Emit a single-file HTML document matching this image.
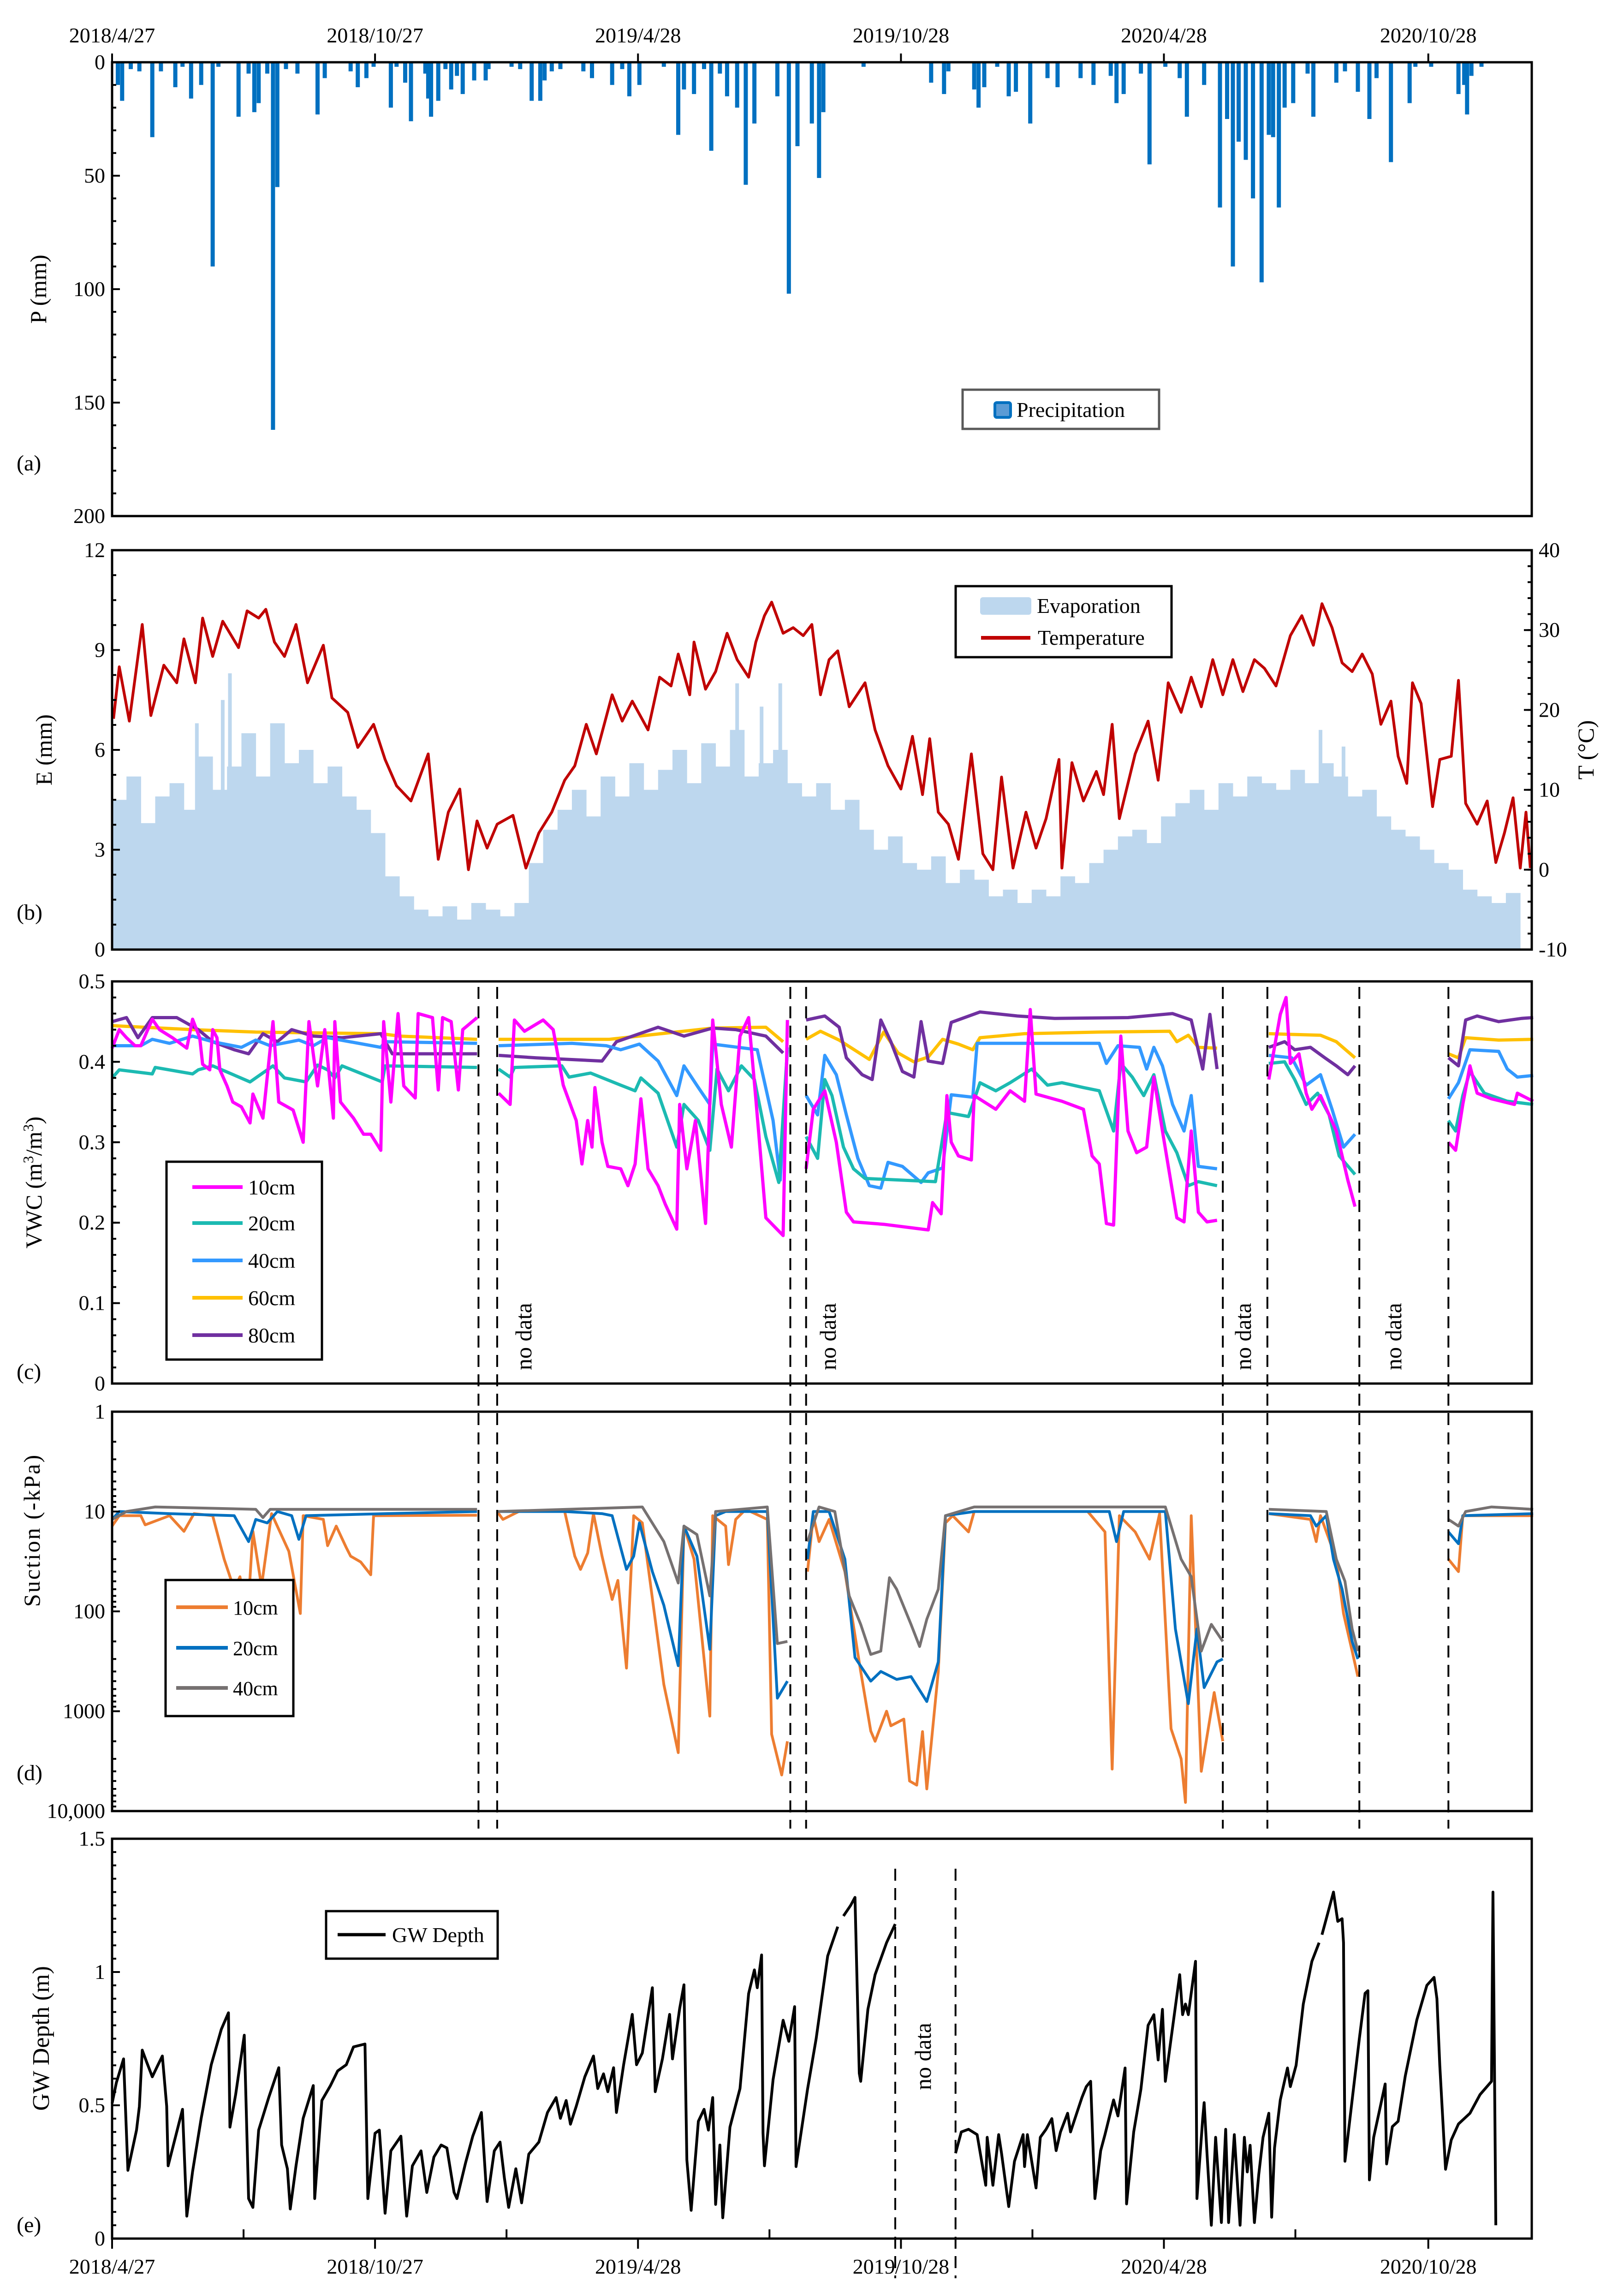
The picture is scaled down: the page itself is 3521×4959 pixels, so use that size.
<!DOCTYPE html>
<html><head><meta charset="utf-8"><style>
body{margin:0;background:#fff}
svg{display:block}
text{font-family:"Liberation Serif",serif;fill:#000}
</style></head><body>
<svg id="chart" xmlns="http://www.w3.org/2000/svg" width="3521" height="4959" viewBox="0 0 3521 4959">
<rect x="0" y="0" width="3521" height="4959" fill="#fff"/>
<g id="marks"></g>
<g id="axes"></g>
<rect x="243" y="135" width="3078" height="984" fill="none" stroke="#000" stroke-width="5"/>
<rect x="243" y="1193" width="3078" height="866" fill="none" stroke="#000" stroke-width="5"/>
<rect x="243" y="2128" width="3078" height="872" fill="none" stroke="#000" stroke-width="5"/>
<rect x="243" y="3061" width="3078" height="866" fill="none" stroke="#000" stroke-width="5"/>
<rect x="243" y="3987" width="3078" height="867" fill="none" stroke="#000" stroke-width="5"/>
<text transform="translate(100,627) rotate(-90)" text-anchor="middle" font-size="50">P (mm)</text>
<text transform="translate(112,1626) rotate(-90)" text-anchor="middle" font-size="50">E (mm)</text>
<text transform="translate(3455,1626) rotate(-90)" text-anchor="middle" font-size="50">T (°C)</text>
<text transform="translate(90,2564) rotate(-90)" text-anchor="middle" font-size="50">VWC (m<tspan baseline-shift="super" font-size="32">3</tspan>/m<tspan baseline-shift="super" font-size="32">3</tspan>)</text>
<text transform="translate(86,3318) rotate(-90)" text-anchor="middle" font-size="50" letter-spacing="3">Suction  (-kPa)</text>
<text transform="translate(106,4420) rotate(-90)" text-anchor="middle" font-size="52">GW Depth (m)</text>
<text x="36" y="1020" font-size="48">(a)</text>
<text x="36" y="1994" font-size="48">(b)</text>
<text x="36" y="2990" font-size="48">(c)</text>
<text x="36" y="3860" font-size="48">(d)</text>
<text x="36" y="4840" font-size="48">(e)</text>
<g>
<rect x="2087" y="845" width="426" height="85" fill="#fff" stroke="#595959" stroke-width="5"/>
<rect x="2157" y="873" width="34" height="32" rx="4" fill="#5b9bd5" stroke="#0070c0" stroke-width="6"/>
<text x="2204" y="904" font-size="46">Precipitation</text>
</g>
<g>
<rect x="2072" y="1271" width="468" height="154" fill="#fff" stroke="#000" stroke-width="5"/>
<rect x="2125" y="1295" width="111" height="38" rx="6" fill="#bdd7ee"/>
<text x="2248" y="1329" font-size="46">Evaporation</text>
<line x1="2127" y1="1383" x2="2234" y2="1383" stroke="#c00000" stroke-width="8"/>
<text x="2250" y="1398" font-size="46">Temperature</text>
</g>
<g>
<rect x="361" y="2519" width="337" height="429" fill="#fff" stroke="#000" stroke-width="5"/>
<line x1="417" y1="2574" x2="526" y2="2574" stroke="#ff00ff" stroke-width="8"/>
<text x="538" y="2590" font-size="46">10cm</text>
<line x1="417" y1="2652" x2="526" y2="2652" stroke="#1cbab2" stroke-width="8"/>
<text x="538" y="2668" font-size="46">20cm</text>
<line x1="417" y1="2733" x2="526" y2="2733" stroke="#3399ff" stroke-width="8"/>
<text x="538" y="2749" font-size="46">40cm</text>
<line x1="417" y1="2814" x2="526" y2="2814" stroke="#ffc000" stroke-width="8"/>
<text x="538" y="2830" font-size="46">60cm</text>
<line x1="417" y1="2895" x2="526" y2="2895" stroke="#7030a0" stroke-width="8"/>
<text x="538" y="2911" font-size="46">80cm</text>
</g>
<g>
<rect x="359" y="3426" width="277" height="295" fill="#fff" stroke="#000" stroke-width="5"/>
<line x1="382" y1="3485" x2="494" y2="3485" stroke="#ed7d31" stroke-width="8"/>
<text x="505" y="3501" font-size="44">10cm</text>
<line x1="382" y1="3573" x2="494" y2="3573" stroke="#0070c0" stroke-width="8"/>
<text x="505" y="3589" font-size="44">20cm</text>
<line x1="382" y1="3660" x2="494" y2="3660" stroke="#767171" stroke-width="8"/>
<text x="505" y="3676" font-size="44">40cm</text>
</g>
<g>
<rect x="707" y="4144" width="372" height="103" fill="#fff" stroke="#000" stroke-width="5"/>
<line x1="732" y1="4195" x2="836" y2="4195" stroke="#000" stroke-width="7"/>
<text x="850" y="4211" font-size="46">GW Depth</text>
</g>
<text transform="translate(1152,2971) rotate(-90)" font-size="50">no data</text>
<text transform="translate(1812,2971) rotate(-90)" font-size="50">no data</text>
<text transform="translate(2712,2971) rotate(-90)" font-size="50">no data</text>
<text transform="translate(3038,2971) rotate(-90)" font-size="50">no data</text>
<text transform="translate(2018,4532) rotate(-90)" font-size="50">no data</text>
</svg>
<script>
const dateTickDays=[0,183,366,549,732,916];
const dateTickLabels=["2018/4/27","2018/10/27","2019/4/28","2019/10/28","2020/4/28","2020/10/28"];
const pTicks=[0,50,100,150,200];
const eTicks=[0,3,6,9,12];
const tTicks=[-10,0,10,20,30,40];
const vwcTicks=[0,0.1,0.2,0.3,0.4,0.5];
const vwcTickLabels=["0","0.1","0.2","0.3","0.4","0.5"];
const sucTicks=[1,10,100,1000,10000];
const sucTickLabels=["1","10","100","1000","10,000"];
const gwTicks=[0,0.5,1,1.5];
const gwTickLabels=["0","0.5","1","1.5"];
const gapLineDays=[255,268,472,483,773,804,868,930];
const gwGapDays=[546,587];

const precipDays=[4,7,13,19,28,34,44,49,55,62,70,74,88,95,99,102,108,112,115,121,129,143,148,166,171,177,182,194,198,204,208,218,220,222,227,232,236,240,244,252,260,262,278,284,292,298,301,306,312,328,334,348,355,360,367,384,394,398,405,412,417,423,428,435,441,447,463,471,477,487,492,495,523,570,579,582,600,603,607,616,624,629,639,651,658,674,683,695,699,704,716,722,733,743,748,760,771,776,780,784,789,794,800,805,808,812,816,822,832,836,852,858,867,875,880,890,903,907,918,937,941,943,946,953];
const precipMM=[10,17,3,4,33,4,11,2,16,10,90,2,24,5,22,18,5,162,55,3,5,23,7,4,11,7,2,20,2,9,26,5,16,24,17,3,12,6,14,8,8,3,2,3,17,17,8,4,3,4,7,10,3,15,10,2,32,12,14,3,39,5,15,20,54,27,15,102,37,27,51,22,2,9,14,4,12,20,11,2,15,13,27,7,11,7,10,6,18,14,5,45,2,7,24,10,64,25,90,35,43,60,97,32,33,64,20,18,5,24,9,4,13,25,7,44,18,2,2,14,10,23,6,2];

const evapVals=[4.5,5.2,3.8,4.6,5.0,4.2,5.8,4.8,5.5,6.5,5.2,6.8,5.6,6.0,5.0,5.5,4.6,4.2,3.5,2.2,1.6,1.2,1.0,1.3,0.9,1.4,1.2,1.0,1.4,2.6,3.6,4.2,4.8,4.0,5.2,4.6,5.6,4.8,5.4,6.0,5.0,6.2,5.5,6.6,5.2,5.6,6.0,5.0,4.6,5.0,4.2,4.5,3.6,3.0,3.4,2.6,2.4,2.8,2.0,2.4,2.1,1.6,1.8,1.4,1.8,1.6,2.2,2.0,2.6,3.0,3.4,3.6,3.2,4.0,4.4,4.8,4.2,5.0,4.6,5.2,5.0,4.8,5.4,5.0,5.6,5.2,4.6,4.8,4.0,3.6,3.4,3.0,2.6,2.4,1.8,1.6,1.4,1.7];
const evapPeakDays=[59,77,82,435,452,465,841,857];
const evapPeakVals=[6.8,7.5,8.3,8.0,7.3,8.0,6.6,6.1];

const tempDays=[1,5,12,21,27,36,45,50,58,63,70,77,88,94,102,107,113,120,128,136,147,153,164,171,182,190,198,208,220,227,234,242,248,254,261,268,279,288,297,306,315,322,330,337,348,355,362,373,381,389,394,402,405,413,420,428,435,443,448,454,459,467,474,481,487,493,499,505,513,524,531,540,549,557,564,569,575,582,589,598,606,613,619,627,636,643,650,659,661,668,676,685,690,696,701,712,721,728,735,744,751,758,766,773,780,787,795,802,810,820,828,836,842,849,856,863,870,877,883,890,895,901,905,911,919,924,932,937,942,950,957,963,969,975,980,984,987];
const tempVals=[18.9,25.4,18.6,30.7,19.3,25.6,23.4,28.9,23.4,31.5,26.7,31.1,27.8,32.4,31.5,32.6,28.5,26.7,30.7,23.4,28.1,21.5,19.7,15.3,18.2,13.8,10.5,8.6,14.5,1.3,7.2,10.1,0,6.1,2.7,5.7,6.8,0.2,4.6,7.2,11.2,13,18.2,14.5,21.9,18.6,21.1,17.5,24.1,23,27,21.9,28.5,22.6,24.8,29.6,26.3,24.1,28.5,31.8,33.5,29.6,30.3,29.3,30.7,21.9,26.3,27.4,20.4,23.4,17.5,13,10.1,16.7,9.4,16.4,7.2,5.7,1.3,14.5,2,0,11.6,0.2,7.2,2.7,6.4,13.8,0.2,13.4,8.6,12.3,9.4,18.2,6.4,14.5,18.6,11.2,23.4,19.7,24.1,20.4,26.3,21.9,26.3,22.3,26.3,25.2,23,29.3,31.8,28.1,33.3,30.3,25.9,24.8,27,24.5,18.2,21.1,14.2,10.8,23.4,20.8,7.9,13.8,14.2,23.7,8.3,5.7,8.6,0.9,4.6,9,0.2,7.2,0.2];

const vwc10Days=[0,5,10,16,20,28,33,42,52,56,61,63,68,70,73,75,80,84,90,96,98,105,112,116,126,133,137,143,148,154,155,159,168,175,180,187,189,194,199,203,211,213,223,227,230,236,241,244,254,null,
269,277,280,287,300,307,314,323,327,331,334,336,341,345,354,359,364,368,373,380,385,393,395,400,406,413,418,424,431,437,443,448,455,467,470,null,
483,488,496,504,511,516,537,568,571,577,581,584,589,598,600,615,625,635,639,643,661,676,682,687,692,697,702,707,713,720,725,731,741,746,751,756,762,769,null,
805,813,817,820,826,831,835,841,852,860,865,null,
930,935,940,945,950,960,976,978,989];
const vwc10=[.417,.44,.43,.42,.42,.453,.44,.43,.417,.453,.43,.397,.39,.44,.43,.39,.37,.35,.344,.324,.36,.33,.45,.35,.34,.30,.45,.37,.44,.33,.45,.35,.33,.31,.31,.29,.45,.35,.46,.37,.355,.46,.455,.365,.455,.45,.365,.44,.455,null,
.361,.347,.452,.438,.452,.44,.371,.327,.273,.327,.294,.368,.30,.27,.267,.246,.273,.354,.267,.246,.223,.192,.347,.267,.327,.199,.452,.347,.294,.432,.455,.354,.206,.184,.452,null,
.267,.341,.364,.30,.213,.201,.198,.191,.225,.211,.358,.30,.283,.278,.358,.341,.364,.351,.465,.36,.351,.341,.283,.273,.199,.197,.432,.314,.287,.294,.381,.314,.206,.201,.314,.213,.201,.203,null,
.378,.459,.48,.398,.41,.361,.341,.358,.314,.253,.22,null,
.30,.29,.347,.395,.361,.354,.347,.361,.351];

const vwc20Days=[0,5,28,30,56,60,70,96,112,120,135,143,150,155,160,188,190,254,null,
269,277,280,313,318,333,354,364,368,380,393,398,408,416,421,429,438,447,455,464,470,null,
483,491,496,501,509,516,524,573,581,596,604,615,625,640,651,661,676,687,697,702,710,718,725,733,741,749,756,769,null,
805,816,823,831,839,847,854,865,null,
930,935,940,945,955,971,989];
const vwc20=[.38,.39,.385,.393,.385,.39,.395,.375,.395,.38,.375,.396,.39,.38,.395,.375,.395,.393,null,
.391,.381,.393,.395,.381,.386,.371,.364,.38,.361,.294,.347,.327,.29,.391,.364,.395,.378,.307,.25,.415,null,
.307,.28,.378,.358,.294,.267,.255,.251,.337,.332,.374,.364,.374,.391,.371,.374,.368,.364,.314,.398,.381,.358,.384,.314,.287,.246,.251,.246,null,
.398,.40,.378,.347,.361,.334,.283,.26,null,
.327,.314,.358,.388,.361,.351,.347];

const vwc40Days=[0,20,28,40,56,70,90,100,110,130,140,150,187,190,254,null,
269,320,344,354,367,380,393,398,408,416,418,449,460,465,470,null,
483,491,496,504,511,519,527,535,540,550,563,568,578,584,599,602,687,692,700,715,720,725,731,738,746,751,756,769,null,
805,821,831,841,849,857,865,null,
930,937,945,965,971,978,989];
const vwc40=[.42,.42,.428,.423,.432,.425,.418,.427,.42,.427,.42,.43,.418,.425,.423,null,
.42,.423,.42,.415,.422,.401,.358,.395,.368,.347,.422,.415,.327,.253,.418,null,
.358,.334,.408,.384,.334,.28,.246,.243,.275,.27,.25,.262,.268,.359,.356,.423,.423,.398,.42,.418,.391,.418,.395,.347,.314,.358,.27,.267,null,
.408,.405,.371,.384,.341,.294,.31,null,
.354,.374,.415,.413,.391,.381,.383];

const vwc60Days=[0,56,100,187,200,254,null,
269,346,418,455,467,null,
483,493,506,527,537,547,558,568,578,589,599,604,635,687,736,741,749,756,769,null,
805,841,852,865,null,
930,937,942,965,989];
const vwc60=[.445,.44,.437,.435,.432,.428,null,
.428,.428,.442,.443,.425,null,
.428,.438,.427,.403,.437,.411,.40,.406,.428,.422,.415,.43,.435,.437,.438,.425,.433,.418,.417,null,
.435,.433,.425,.405,null,
.41,.405,.43,.427,.428];

const vwc80Days=[0,10,18,28,45,60,70,85,95,105,115,125,140,160,187,195,254,null,
269,295,341,351,380,398,418,434,455,467,null,
483,496,506,511,522,529,535,542,550,558,563,568,578,584,604,630,656,707,738,751,759,764,769,null,
805,816,823,834,844,852,860,865,null,
930,937,942,950,965,981,989];
const vwc80=[.45,.455,.43,.455,.455,.44,.425,.415,.41,.435,.425,.44,.432,.43,.435,.41,.41,null,
.408,.405,.401,.425,.443,.432,.442,.44,.432,.411,null,
.452,.457,.443,.405,.384,.378,.452,.425,.388,.381,.45,.401,.398,.449,.462,.457,.454,.455,.46,.452,.391,.459,.391,null,
.418,.425,.415,.418,.405,.395,.384,.395,null,
.405,.395,.452,.457,.45,.454,.455];

const suc10Days=[0,5,20,23,40,50,57,70,78,85,89,94,98,104,111,123,131,133,147,150,156,163,166,173,180,182,254,null,
268,272,283,315,322,326,331,335,341,348,352,358,363,369,384,394,398,405,416,418,427,429,434,441,456,459,466,470,null,
484,488,492,499,510,521,528,531,539,542,551,555,560,564,567,575,580,585,596,600,679,691,696,701,712,722,729,737,744,747,751,758,767,773,null,
805,834,838,841,852,857,863,867,null,
930,937,940,960,989];
const suc10=[14,11,11,13.6,11,15.8,10.5,11,30,60,45,135,15.8,56,10.5,25,105,11,12,22,14,23,28,32,43,11,10.9,null,
10,12,10,10,28,38,26,10.5,28,76,49,370,11,13,540,2600,14,30,1120,11,14,34,12,9.5,12,1700,4350,2000,null,
40,11,20,12,40,400,1580,2000,1000,1400,1200,5000,5500,1600,6000,400,13,11,16,10,10,16,3800,11,16,30,10.5,1500,3000,8200,11,4000,650,2000,null,
10.5,12,20,11,30,105,250,450,null,
30,40,11,11,11];

const suc20Days=[0,5,40,85,95,100,108,115,125,130,135,190,254,null,
268,315,341,348,358,363,367,376,384,394,398,407,416,420,427,456,463,470,null,
484,488,499,510,517,528,535,546,556,567,575,580,600,694,699,704,733,740,749,755,760,769,773,null,
805,834,838,845,850,856,863,867,null,
930,937,940,989];
const suc20=[12,10,10.5,11,20,12,13,10,11,19,11,10.5,10,null,
10,10,10.5,11,38,28,13,40,87,350,14,28,240,11,10,10,740,500,null,
30,10,10,30,290,500,400,480,450,800,320,11,10,10,20,10,10,150,840,150,580,320,300,null,
10.5,11,14,11,30,60,200,300,null,
16,21,11,10.5];

const suc40Days=[0,10,30,100,105,110,254,null,
268,369,384,394,398,407,416,420,456,463,470,null,
484,492,503,513,521,528,535,541,546,556,562,567,575,580,600,733,744,751,758,765,773,null,
805,845,852,858,863,867,null,
930,937,942,960,989];
const suc40=[12,10,9,9.5,11.5,9.5,9.5,null,
10,9,20,52,14,17,70,10,9,210,200,null,
20,9,10,70,135,270,250,46,60,135,225,120,60,11,9,9,30,45,250,135,200,null,
9.5,10,30,50,150,250,null,
12,14,10,9,9.5];

const gwDays=[0,3,8,11,17,19,21,24,28,32,35,38,39,49,52,56,62,69,76,81,82,86,92,95,98,102,109,116,118,122,124,128,133,140,141,146,152,157,163,168,176,178,183,186,190,194,201,205,209,215,219,224,229,233,238,240,246,251,257,261,266,270,273,276,281,285,290,297,303,309,312,316,319,323,329,335,338,342,345,349,351,356,362,365,369,376,378,383,388,390,395,398,400,403,408,412,415,418,420,423,425,430,437,443,447,449,452,453,454,460,467,471,475,476,479,484,490,498,505,null,509,514,517,520,521,526,531,539,545,null,
587,591,596,602,608,609,613,617,619,624,628,634,635,637,643,646,650,654,657,660,665,667,675,678,681,684,688,691,697,700,705,706,711,716,721,725,728,731,733,737,743,745,747,749,754,755,759,760,762,765,768,772,775,777,781,785,788,790,792,795,798,801,805,807,809,813,818,820,824,829,835,840,null,842,850,853,856,857,858,863,868,872,874,875,878,882,886,887,891,895,900,908,915,920,922,924,928,932,937,945,952,960,961,963];
const gwVals=[.507,.585,.674,.256,.407,.496,.707,.663,.607,.652,.685,.496,.273,.485,.084,.251,.451,.652,.785,.847,.418,.54,.763,.15,.117,.407,.529,.641,.351,.262,.111,.273,.451,.574,.15,.518,.574,.629,.652,.719,.73,.15,.395,.407,.095,.329,.384,.084,.273,.329,.173,.306,.351,.34,.173,.15,.284,.384,.473,.139,.329,.362,.228,.117,.262,.134,.317,.362,.473,.529,.451,.518,.429,.496,.607,.685,.563,.618,.551,.641,.473,.652,.841,.652,.696,.941,.551,.674,.841,.674,.863,.952,.295,.106,.44,.485,.407,.529,.128,.351,.078,.418,.563,.919,1.008,.941,1.064,.396,.273,.596,.819,.74,.87,.27,.38,.56,.75,1.06,1.17,null,1.21,1.25,1.28,.62,.59,.86,.99,1.11,1.18,null,
.32,.40,.41,.39,.20,.38,.20,.39,.32,.12,.29,.39,.27,.39,.19,.38,.41,.45,.33,.40,.47,.40,.53,.57,.59,.15,.33,.39,.52,.46,.64,.13,.40,.56,.80,.84,.67,.86,.59,.75,.99,.84,.88,.84,1.04,.15,.45,.51,.32,.05,.38,.06,.41,.06,.39,.05,.38,.25,.35,.06,.24,.38,.47,.08,.34,.52,.64,.57,.65,.88,1.04,1.11,null,1.14,1.30,1.19,1.20,1.11,.29,.52,.75,.92,.93,.22,.38,.48,.58,.28,.42,.44,.61,.82,.95,.98,.90,.65,.26,.37,.43,.47,.54,.59,1.30,.05];

const X0=243,X1=3321,DMAX=988;
function xs(d){return X0+(X1-X0)*d/DMAX;}
function yA(v){return 135+984*v/200;}
function yE(v){return 2059-866*v/12;}
function yT(t){return 2059-866*(t+10)/50;}
function yC(v){return 3000-872*v/0.5;}
function yD(v){return 3061+866*Math.log10(v)/4;}
function yG(v){return 4854-867*v/1.5;}

const NS='http://www.w3.org/2000/svg';
const marks=document.getElementById('marks');
const axes=document.getElementById('axes');
function mk(tag,parent){const e=document.createElementNS(NS,tag);parent.appendChild(e);return e;}
function seriesPath(days,vals,yf){
  let d='',pen=false;
  for(let i=0;i<days.length;i++){
    if(days[i]===null||vals[i]===null){pen=false;continue;}
    d+=(pen?'L':'M')+xs(days[i]).toFixed(1)+' '+yf(vals[i]).toFixed(1);
    pen=true;
  }
  return d;
}
function drawLine(days,vals,yf,color,w,name){
  const p=mk('path',marks);
  p.setAttribute('d',seriesPath(days,vals,yf));
  p.setAttribute('fill','none');p.setAttribute('stroke',color);p.setAttribute('stroke-width',w);
  p.setAttribute('stroke-linejoin','round');
  
  
}

for(let i=0;i<precipDays.length;i++){
  const r=mk('rect',marks);
  r.setAttribute('x',(xs(precipDays[i])-4.5).toFixed(1));
  r.setAttribute('y',135);
  r.setAttribute('width',9);
  r.setAttribute('height',(yA(precipMM[i])-135).toFixed(1));
  r.setAttribute('fill','#0070c0');
  
  
}
for(let i=0;i<evapVals.length;i++){
  const r=mk('rect',marks);
  const xa=xs(i*10),xb=xs(i*10+10);
  r.setAttribute('x',xa.toFixed(1));
  r.setAttribute('y',yE(evapVals[i]).toFixed(1));
  r.setAttribute('width',(xb-xa+0.5).toFixed(1));
  r.setAttribute('height',(2059-yE(evapVals[i])).toFixed(1));
  r.setAttribute('fill','#bdd7ee');
  
  
}
for(let i=0;i<evapPeakDays.length;i++){
  const r=mk('rect',marks);
  r.setAttribute('x',(xs(evapPeakDays[i])-4).toFixed(1));
  r.setAttribute('y',yE(evapPeakVals[i]).toFixed(1));
  r.setAttribute('width',8);
  r.setAttribute('height',(2059-yE(evapPeakVals[i])).toFixed(1));
  r.setAttribute('fill','#bdd7ee');
  
  
}
drawLine(tempDays,tempVals,yT,'#c00000',6,'temperature-line');
drawLine(vwc60Days,vwc60,yC,'#ffc000',7,'vwc-60cm-line');
drawLine(vwc80Days,vwc80,yC,'#7030a0',7,'vwc-80cm-line');
drawLine(vwc40Days,vwc40,yC,'#3399ff',7,'vwc-40cm-line');
drawLine(vwc20Days,vwc20,yC,'#1cbab2',7,'vwc-20cm-line');
drawLine(vwc10Days,vwc10,yC,'#ff00ff',7,'vwc-10cm-line');
drawLine(suc10Days,suc10,yD,'#ed7d31',6,'suction-10cm-line');
drawLine(suc20Days,suc20,yD,'#0070c0',6,'suction-20cm-line');
drawLine(suc40Days,suc40,yD,'#767171',6,'suction-40cm-line');
drawLine(gwDays,gwVals,yG,'#000',6,'gw-depth-line');

for(let i=0;i<gapLineDays.length;i++){
  const l=mk('line',axes);
  const x=xs(gapLineDays[i]);
  l.setAttribute('x1',x.toFixed(1));l.setAttribute('x2',x.toFixed(1));
  l.setAttribute('y1',2140);l.setAttribute('y2',3965);
  l.setAttribute('stroke','#000');l.setAttribute('stroke-width',4);l.setAttribute('stroke-dasharray','26 16');
  
  
}
for(let i=0;i<gwGapDays.length;i++){
  const l=mk('line',axes);
  const x=xs(gwGapDays[i])+(i===0?-3:0);
  l.setAttribute('x1',x.toFixed(1));l.setAttribute('x2',x.toFixed(1));
  l.setAttribute('y1',4052);l.setAttribute('y2',4940);
  l.setAttribute('stroke','#000');l.setAttribute('stroke-width',4);l.setAttribute('stroke-dasharray','26 16');
  
  
}

function tickLine(x1,y1,x2,y2,name){
  const l=mk('line',axes);
  l.setAttribute('x1',x1);l.setAttribute('y1',y1);l.setAttribute('x2',x2);l.setAttribute('y2',y2);
  l.setAttribute('stroke','#000');l.setAttribute('stroke-width',4);
  
  
}
function tickText(x,y,s,anchor,name){
  const t=mk('text',axes);
  t.setAttribute('x',x);t.setAttribute('y',y);t.setAttribute('font-size',46);t.setAttribute('text-anchor',anchor);
  t.textContent=s;
  
  
}
function leftAxis(vals,labels,yf,minorStep,lo,hi,name){
  for(let i=0;i<vals.length;i++){
    const y=yf(vals[i]);
    tickLine(243,y,260,y,name+'-tick');
    tickText(228,y+15,labels[i],'end',name+'-label');
  }
  for(let v=lo;v<=hi+1e-9;v+=minorStep){const y=yf(v);tickLine(243,y,252,y,name+'-minor-tick');}
}
leftAxis(pTicks,pTicks.map(String),yA,10,0,200,'p-axis');
leftAxis(eTicks,eTicks.map(String),yE,0.75,0,12,'e-axis');
leftAxis(vwcTicks,vwcTickLabels,yC,0.02,0,0.5,'vwc-axis');
leftAxis(gwTicks,gwTickLabels,yG,0.05,0,1.5,'gw-axis');
for(let i=0;i<sucTicks.length;i++){
  const y=yD(sucTicks[i]);
  tickLine(243,y,260,y,'suction-axis-tick');
  tickText(228,y+15,sucTickLabels[i],'end','suction-axis-label');
  if(i<sucTicks.length-1){for(let m=2;m<10;m++){const ym=yD(sucTicks[i]*m);tickLine(243,ym,252,ym,'suction-axis-minor-tick');}}
}
for(let i=0;i<tTicks.length;i++){
  const y=yT(tTicks[i]);
  tickLine(3304,y,3321,y,'t-axis-tick');
  tickText(3336,y+15,String(tTicks[i]),'start','t-axis-label');
}
for(let v=-10;v<=40;v+=2){const y=yT(v);tickLine(3312,y,3321,y,'t-axis-minor-tick');}
for(let i=0;i<dateTickDays.length;i++){
  const x=xs(dateTickDays[i]);
  tickLine(x,116,x,135,'top-date-tick');
  tickText(x,92,dateTickLabels[i],'middle','top-date-label');
  tickLine(x,4854,x,4876,'bottom-date-tick');
  tickText(x,4930,dateTickLabels[i],'middle','bottom-date-label');
  const xm=xs(dateTickDays[i]+91.5);
  if(xm<X1-5) tickLine(xm,4834,xm,4854,'bottom-minor-date-tick');
}
</script>
</body></html>
